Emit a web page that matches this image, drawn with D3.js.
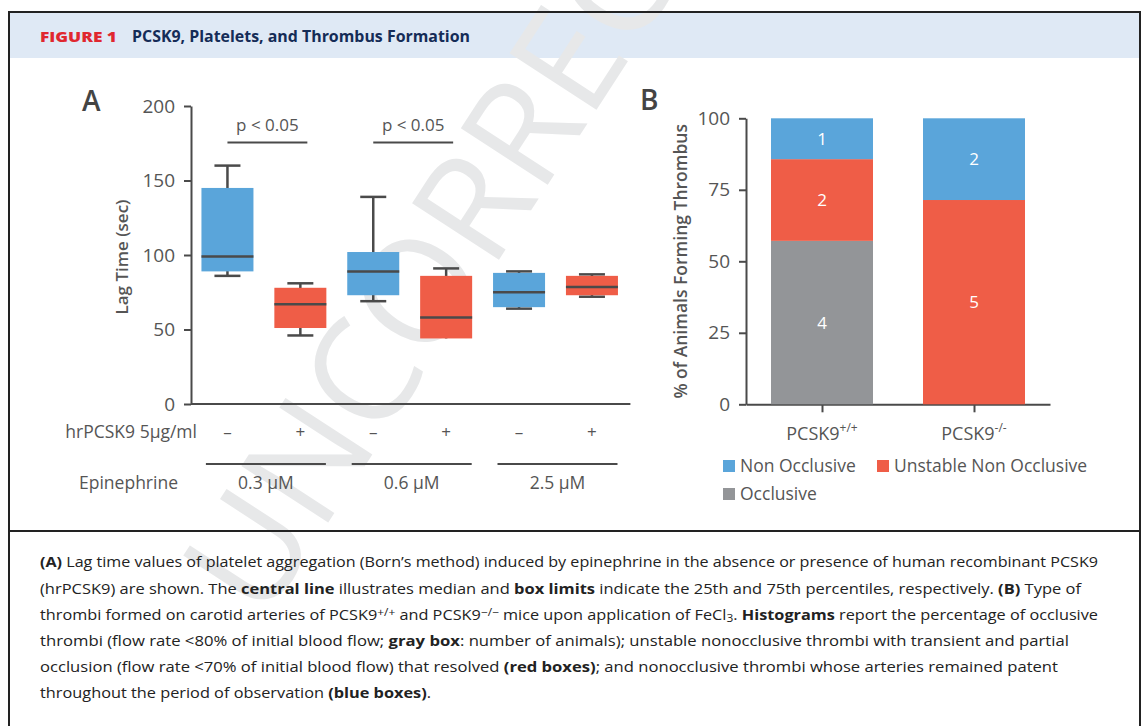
<!DOCTYPE html>
<html>
<head>
<meta charset="utf-8">
<script src="https://cdn.jsdelivr.net/npm/d3@7"></script>
<style>
  body { margin: 0; background: #fff; }
  svg { display: block; font-family: 'Open Sans', sans-serif; }
</style>
</head>
<body>
<svg width="1144" height="726"></svg>
<script>
// panel A: lag time box plots
const treatment = ['–', '+', '–', '+', '–', '+'];
const epiLevels = ['0.3 µM', '0.6 µM', '2.5 µM'];
const whiskerLow = [86, 46, 69, 44, 64, 72];
const boxQ1 = [89, 51, 73, 44, 65, 73];
const boxMedian = [99, 67, 89, 58, 75, 78.5];
const boxQ3 = [145, 78, 102, 86, 88, 86];
const whiskerHigh = [160, 81, 139, 91, 89, 87];
const lagTicks = [0, 50, 100, 150, 200];
const pBrackets = [[0, 1], [2, 3]];
const pLabel = 'p < 0.05';

// panel B: thrombus type counts
const genotypes = ['+/+', '-/-'];
const occlusiveCounts = [4, 0];
const unstableCounts = [2, 5];
const nonOcclusiveCounts = [1, 2];
const percentTicks = [0, 25, 50, 75, 100];
const legendItems = ['Non Occlusive', 'Unstable Non Occlusive', 'Occlusive'];

const blue = '#5aa5da', red = '#ef5d47', gray = '#939598', ink = '#4a4a4a';

const svg = d3.select('svg');

// frame + header
svg.append('rect').attr('x', 9).attr('y', 12).attr('width', 1131).attr('height', 46).attr('fill', '#dfe9f5');

// watermark
svg.append('text')
  .attr('transform', 'translate(263,623) rotate(-57)')
  .style('font-size', '145px')
  .style('font-weight', 400)
  .attr('fill', '#e7e8e9')
  .text('UNCORRECTED');

svg.append('text')
  .attr('x', 40).attr('y', 42)
  .attr('fill', '#e0272f')
  .style('font-size', '14px').style('font-weight', 800)
  .attr('textLength', 77).attr('lengthAdjust', 'spacingAndGlyphs')
  .text('FIGURE 1');
svg.append('text')
  .attr('x', 132).attr('y', 42)
  .attr('fill', '#152c57')
  .style('font-size', '16px').style('font-weight', 700)
  .attr('textLength', 338).attr('lengthAdjust', 'spacingAndGlyphs')
  .text('PCSK9, Platelets, and Thrombus Formation');

const frame = svg.append('g').attr('stroke', '#222').attr('stroke-width', 2);
frame.append('line').attr('x1', 9).attr('x2', 1140).attr('y1', 12).attr('y2', 12);
frame.append('line').attr('x1', 9).attr('x2', 9).attr('y1', 11).attr('y2', 726);
frame.append('line').attr('x1', 1140).attr('x2', 1140).attr('y1', 11).attr('y2', 726);
frame.append('line').attr('x1', 9).attr('x2', 1140).attr('y1', 531).attr('y2', 531);

function styleAxis(g) {
  g.select('.domain').attr('stroke', ink).attr('stroke-width', 2);
  g.selectAll('.tick line').attr('stroke', ink).attr('stroke-width', 2);
  g.selectAll('.tick text').attr('fill', '#555').style('font-size', '19px').style('font-family', 'Open Sans');
}

// ---------- panel A ----------
const xA = d3.scalePoint().domain(d3.range(6)).range([191, 628.4]).padding(0.5);
const yA = d3.scaleLinear().domain([0, 200]).range([404, 106]);
const boxW = 52, capW = 26;

svg.append('text').attr('x', 82).attr('y', 111)
  .attr('fill', '#444').style('font-size', '28px').style('font-weight', 600).text('A');

svg.append('g')
  .attr('transform', 'translate(191,0)')
  .call(d3.axisLeft(yA).tickValues(lagTicks).tickSize(7).tickSizeOuter(0).tickPadding(9))
  .call(styleAxis);

svg.append('line')
  .attr('x1', 191).attr('x2', xA.range()[1] + 2)
  .attr('y1', yA(0)).attr('y2', yA(0))
  .attr('stroke', ink).attr('stroke-width', 2);

svg.append('text')
  .attr('transform', `translate(128,${(yA(0) + yA(200)) / 2 + 2}) rotate(-90)`)
  .attr('text-anchor', 'middle')
  .attr('fill', '#555').style('font-size', '17px').style('font-weight', 600)
  .text('Lag Time (sec)');

const boxes = svg.append('g').selectAll('g').data(d3.range(6)).join('g');
boxes.append('line')
  .attr('x1', i => xA(i)).attr('x2', i => xA(i))
  .attr('y1', i => yA(whiskerHigh[i])).attr('y2', i => yA(whiskerLow[i]))
  .attr('stroke', ink).attr('stroke-width', 2.5);
boxes.selectAll('.cap')
  .data(i => [[i, whiskerHigh[i], boxQ3[i]], [i, whiskerLow[i], boxQ1[i]]].filter(d => d[1] !== d[2]))
  .join('line')
  .attr('x1', d => xA(d[0]) - capW / 2).attr('x2', d => xA(d[0]) + capW / 2)
  .attr('y1', d => yA(d[1])).attr('y2', d => yA(d[1]))
  .attr('stroke', ink).attr('stroke-width', 2.5);
boxes.append('rect')
  .attr('x', i => xA(i) - boxW / 2).attr('width', boxW)
  .attr('y', i => yA(boxQ3[i])).attr('height', i => yA(boxQ1[i]) - yA(boxQ3[i]))
  .attr('fill', i => (treatment[i] === '+' ? red : blue));
boxes.append('line')
  .attr('x1', i => xA(i) - boxW / 2).attr('x2', i => xA(i) + boxW / 2)
  .attr('y1', i => yA(boxMedian[i])).attr('y2', i => yA(boxMedian[i]))
  .attr('stroke', ink).attr('stroke-width', 2.5);

// significance brackets
pBrackets.forEach(([a, b]) => {
  svg.append('line')
    .attr('x1', xA(a)).attr('x2', xA(b) + 7)
    .attr('y1', 142.5).attr('y2', 142.5)
    .attr('stroke', ink).attr('stroke-width', 2);
  svg.append('text')
    .attr('x', (xA(a) + xA(b) + 7) / 2).attr('y', 131)
    .attr('text-anchor', 'middle')
    .attr('fill', '#555').style('font-size', '17px')
    .text(pLabel);
});

// treatment row
svg.append('text').attr('x', 197).attr('y', 438).attr('text-anchor', 'end')
  .attr('fill', '#555').style('font-size', '17.5px').text('hrPCSK9 5µg/ml');
svg.append('g').selectAll('text').data(treatment).join('text')
  .attr('x', (d, i) => xA(i)).attr('y', 438)
  .attr('text-anchor', 'middle')
  .attr('fill', '#555').style('font-size', '17px')
  .text(d => d);

// epinephrine row
svg.append('text').attr('x', 178).attr('y', 489).attr('text-anchor', 'end')
  .attr('fill', '#555').style('font-size', '17.5px').text('Epinephrine');
epiLevels.forEach((lvl, k) => {
  const cx = (xA(2 * k) + xA(2 * k + 1)) / 2 + 2;
  svg.append('line')
    .attr('x1', cx - 60).attr('x2', cx + 60)
    .attr('y1', 464).attr('y2', 464)
    .attr('stroke', ink).attr('stroke-width', 2);
  svg.append('text').attr('x', cx).attr('y', 489).attr('text-anchor', 'middle')
    .attr('fill', '#555').style('font-size', '17.5px').text(lvl);
});

// ---------- panel B ----------
const xB = d3.scalePoint().domain(genotypes).range([746, 1050]).padding(0.5);
const yB = d3.scaleLinear().domain([0, 100]).range([404.3, 118.3]);
const barW = 102;

svg.append('text').attr('x', 640).attr('y', 110)
  .attr('fill', '#444').style('font-size', '28px').style('font-weight', 600).text('B');

svg.append('g')
  .attr('transform', 'translate(746,0)')
  .call(d3.axisLeft(yB).tickValues(percentTicks).tickSize(7).tickSizeOuter(0).tickPadding(9))
  .call(styleAxis);

svg.append('g')
  .attr('transform', `translate(0,${yB(0)})`)
  .call(d3.axisBottom(xB).tickSize(8).tickSizeOuter(0).tickFormat(''))
  .call(styleAxis);

svg.append('text')
  .attr('transform', `translate(687,${(yB(0) + yB(100)) / 2}) rotate(-90)`)
  .attr('text-anchor', 'middle')
  .attr('fill', '#555').style('font-size', '17.5px').style('font-weight', 600)
  .text('% of Animals Forming Thrombus');

const rows = genotypes.map((g, i) => ({
  genotype: g,
  occlusive: occlusiveCounts[i],
  unstable: unstableCounts[i],
  nonOcclusive: nonOcclusiveCounts[i]
}));
const keys = ['occlusive', 'unstable', 'nonOcclusive'];
const colour = d3.scaleOrdinal().domain(keys).range([gray, red, blue]);
const stacked = d3.stack().keys(keys).offset(d3.stackOffsetExpand)(rows);

const layers = svg.append('g').selectAll('g').data(stacked).join('g')
  .attr('fill', d => colour(d.key));
layers.selectAll('rect').data(d => d).join('rect')
  .attr('x', d => xB(d.data.genotype) - barW / 2).attr('width', barW)
  .attr('y', d => yB(d[1] * 100))
  .attr('height', d => yB(d[0] * 100) - yB(d[1] * 100));

stacked.forEach(layer => {
  layer.forEach(d => {
    const n = d.data[layer.key];
    if (!n) return;
    svg.append('text')
      .attr('x', xB(d.data.genotype))
      .attr('y', (yB(d[0] * 100) + yB(d[1] * 100)) / 2 + 6)
      .attr('text-anchor', 'middle')
      .attr('fill', '#fff').style('font-size', '17px')
      .text(n);
  });
});

genotypes.forEach(g => {
  const t = svg.append('text').attr('x', xB(g)).attr('y', 440)
    .attr('text-anchor', 'middle').attr('fill', '#555').style('font-size', '18px');
  t.append('tspan').text('PCSK9');
  t.append('tspan').attr('dy', -8).style('font-size', '12px').text(g);
});

// legend
const legendPos = [[723, 460], [877, 460], [723, 488]];
const legendColour = [blue, red, gray];
legendItems.forEach((name, i) => {
  const [lx, ly] = legendPos[i];
  svg.append('rect').attr('x', lx).attr('y', ly).attr('width', 12).attr('height', 12).attr('fill', legendColour[i]);
  svg.append('text').attr('x', lx + 17).attr('y', ly + 12)
    .attr('fill', '#555').style('font-size', '17.5px').text(name);
});

// ---------- caption ----------
const captionLines = [
  [['b', '(A)'], ['', ' Lag time values of platelet aggregation (Born’s method) induced by epinephrine in the absence or presence of human recombinant PCSK9']],
  [['', '(hrPCSK9) are shown. The '], ['b', 'central line'], ['', ' illustrates median and '], ['b', 'box limits'], ['', ' indicate the 25th and 75th percentiles, respectively. '], ['b', '(B)'], ['', ' Type of']],
  [['', 'thrombi formed on carotid arteries of PCSK9'], ['sup', '+/+'], ['', ' and PCSK9'], ['sup', '−/−'], ['', ' mice upon application of FeCl'], ['sub', '3'], ['', '. '], ['b', 'Histograms'], ['', ' report the percentage of occlusive']],
  [['', 'thrombi (flow rate <80% of initial blood flow; '], ['b', 'gray box'], ['', ': number of animals); unstable nonocclusive thrombi with transient and partial']],
  [['', 'occlusion (flow rate <70% of initial blood flow) that resolved '], ['b', '(red boxes)'], ['', '; and nonocclusive thrombi whose arteries remained patent']],
  [['', 'throughout the period of observation '], ['b', '(blue boxes)'], ['', '.']]
];
const captionWidths = [1058, 1041, 1058, 1029, 1018, 391];
const captionY = [567, 594, 620, 646, 672, 698];

captionLines.forEach((parts, li) => {
  const t = svg.append('text')
    .attr('x', 40).attr('y', captionY[li])
    .attr('fill', '#222').style('font-size', '15px')
    .attr('textLength', captionWidths[li]).attr('lengthAdjust', 'spacingAndGlyphs');
  parts.forEach(([kind, str]) => {
    const s = t.append('tspan').text(str);
    if (kind === 'b') s.style('font-weight', 700);
    if (kind === 'sup') s.attr('baseline-shift', '40%').style('font-size', '11px');
    if (kind === 'sub') s.attr('baseline-shift', '-20%').style('font-size', '11px');
  });
});
</script>
</body>
</html>
